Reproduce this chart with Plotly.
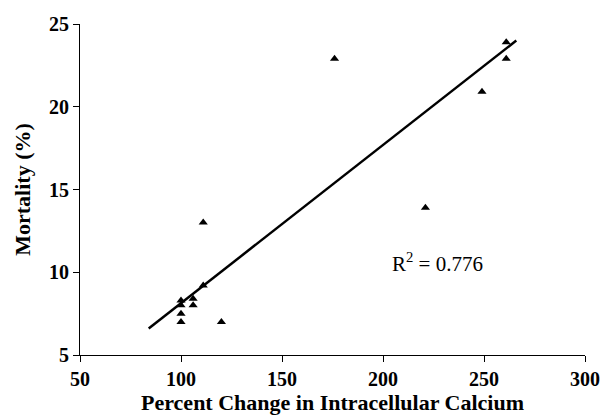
import plotly.graph_objects as go

# Data
calcium_change = [100, 100, 106, 106, 100, 100, 120, 111, 111, 176, 221, 249, 261, 261]
mortality = [8.3, 8.0, 8.4, 8.0, 7.5, 7.0, 7.0, 9.2, 13.0, 22.9, 13.9, 20.9, 23.9, 22.9]

fit_x = [84, 266]
fit_y = [6.6, 24.0]

x_ticks = [50, 100, 150, 200, 250, 300]
y_ticks = [5, 10, 15, 20, 25]
r2_text = "R<sup>2</sup> = 0.776"

FONT = "Liberation Serif"

fig = go.Figure()
fig.add_trace(go.Scatter(x=fit_x, y=fit_y, mode="lines",
                         line=dict(color="black", width=2.5), showlegend=False))
fig.add_trace(go.Scatter(x=calcium_change, y=mortality, mode="markers",
                         marker=dict(symbol="triangle-up", size=8, color="black"),
                         showlegend=False))

fig.add_annotation(x=227, y=10.6, text=r2_text, showarrow=False,
                   font=dict(family=FONT, size=21, color="black"))

tick_font = dict(family=FONT, size=20, color="black", weight=700)

fig.update_layout(
    width=612, height=420,
    margin=dict(l=80, r=19, t=24, b=65),
    paper_bgcolor="white", plot_bgcolor="white",
    font=dict(family=FONT, color="black"),
    xaxis=dict(range=[50, 300], tickvals=x_ticks,
               ticktext=[str(v) for v in x_ticks],
               showgrid=False, zeroline=False,
               showline=True, linecolor="black", linewidth=1,
               ticks="outside", ticklen=6, tickcolor="black",
               tickfont=tick_font,
               title=dict(text="<b>Percent Change in Intracellular Calcium</b>",
                          font=dict(family=FONT, size=22), standoff=0)),
    yaxis=dict(range=[5, 25], tickvals=y_ticks,
               ticktext=[str(v) for v in y_ticks],
               showgrid=False, zeroline=False,
               showline=True, linecolor="black", linewidth=1,
               ticks="outside", ticklen=6, tickcolor="black",
               tickfont=tick_font,
               title=dict(text="<b>Mortality (%)</b>",
                          font=dict(family=FONT, size=22), standoff=12)),
)

fig.write_html("out.html")
